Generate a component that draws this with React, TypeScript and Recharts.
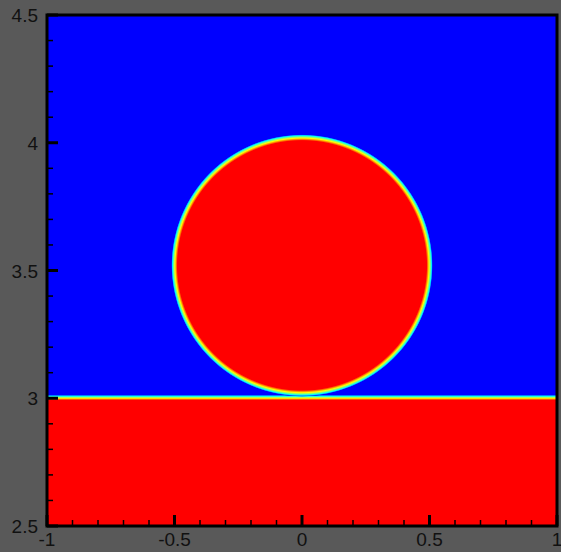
import { ScatterChart, Scatter, XAxis, YAxis, ReferenceArea } from 'recharts';

// axis ticks (minor every 0.1, labels on the halves)
const xTicks = [-1, -0.9, -0.8, -0.7, -0.6, -0.5, -0.4, -0.3, -0.2, -0.1, 0, 0.1, 0.2, 0.3, 0.4, 0.5, 0.6, 0.7, 0.8, 0.9, 1];
const yTicks = [2.5, 2.6, 2.7, 2.8, 2.9, 3, 3.1, 3.2, 3.3, 3.4, 3.5, 3.6, 3.7, 3.8, 3.9, 4, 4.1, 4.2, 4.3, 4.4, 4.5];
const xLabels = [-1, -0.5, 0, 0.5, 1];
const yLabels = [2.5, 3, 3.5, 4, 4.5];

// drop (centre + radius) and the liquid film below it
const drop = { x: 0, y: 3.52, r: 0.5 };
const dropCentre = [{ x: drop.x, y: drop.y }];
const film = { top: 3.0, bottom: 2.5 };
const interfaceBand = { y1: 2.993, y2: 3.014 };

const jet = ['#0000ff', '#0080ff', '#00ffff', '#80ff80', '#ffff00', '#ff8000', '#ff0000'];
const bandStops = [0, 0.15, 0.3, 0.45, 0.65, 0.85, 1];

const FONT = '"Liberation Sans", Arial, sans-serif';

const near = (a: number, list: number[]) => list.some((v) => Math.abs(v - a) < 1e-6);

const YTick = (props: any) => {
  const { x, y, payload } = props;
  const major = near(payload.value, yLabels);
  return (
    <g>
      <line x1={x} x2={x + (major ? 11 : 6)} y1={y} y2={y} stroke="#000" strokeWidth={major ? 3 : 1.5} />
      {major && (
        <text x={x - 9} y={y + 7} textAnchor="end" fontSize={19} fontFamily={FONT} fill="#111">
          {String(payload.value)}
        </text>
      )}
    </g>
  );
};

const XTick = (props: any) => {
  const { x, y, payload } = props;
  const major = near(payload.value, xLabels);
  return (
    <g>
      <line x1={x} x2={x} y1={y} y2={y - (major ? 11 : 6)} stroke="#000" strokeWidth={major ? 3 : 1.5} />
      {major && (
        <text x={x} y={y + 20} textAnchor="middle" fontSize={19} fontFamily={FONT} fill="#111">
          {String(payload.value)}
        </text>
      )}
    </g>
  );
};

const DropShape = (props: any) => {
  const { x, y, width, height } = props;
  const k = 1.025;
  return (
    <g>
      <defs>
        <radialGradient id="dropGrad" cx="0.5" cy="0.5" r="0.5">
          <stop offset="0" stopColor={jet[6]} />
          <stop offset="0.953" stopColor={jet[6]} />
          <stop offset="0.962" stopColor={jet[5]} />
          <stop offset="0.972" stopColor={jet[4]} />
          <stop offset="0.982" stopColor={jet[3]} />
          <stop offset="0.99" stopColor={jet[2]} />
          <stop offset="0.996" stopColor={jet[1]} />
          <stop offset="1" stopColor={jet[0]} />
        </radialGradient>
      </defs>
      <ellipse cx={x + width / 2} cy={y + height / 2} rx={(width / 2) * k} ry={(height / 2) * k} fill="url(#dropGrad)" />
    </g>
  );
};

const BandShape = (props: any) => {
  const { x, y, width, height } = props;
  return (
    <g>
      <defs>
        <linearGradient id="bandGrad" x1="0" y1="0" x2="0" y2="1">
          {jet.map((c, i) => (
            <stop key={c} offset={bandStops[i]} stopColor={c} />
          ))}
        </linearGradient>
      </defs>
      <rect x={x} y={y} width={width} height={height} fill="url(#bandGrad)" />
    </g>
  );
};

export default function App() {
  return (
    <div style={{ position: 'absolute', left: 0, top: 0, width: 561, height: 552, background: '#595959' }}>
      <ScatterChart width={561} height={552} margin={{ top: 15, right: 4, left: 0, bottom: 0 }}>
        <XAxis
          type="number"
          dataKey="x"
          domain={[-1, 1]}
          ticks={xTicks}
          interval={0}
          tickSize={0}
          tickMargin={0}
          tickLine={false}
          axisLine={false}
          height={26}
          tick={<XTick />}
        />
        <YAxis
          type="number"
          dataKey="y"
          domain={[2.5, 4.5]}
          ticks={yTicks}
          interval={0}
          tickSize={0}
          tickMargin={0}
          tickLine={false}
          axisLine={false}
          width={47}
          tick={<YTick />}
        />
        <ReferenceArea x1={-1} x2={1} y1={2.5} y2={4.5} fill="#0000ff" fillOpacity={1} stroke="none" ifOverflow="visible" />
        <ReferenceArea x1={-1} x2={1} y1={film.bottom} y2={film.top} fill="#ff0000" fillOpacity={1} stroke="none" ifOverflow="visible" />
        <ReferenceArea x1={-1} x2={1} y1={interfaceBand.y1} y2={interfaceBand.y2} shape={BandShape} ifOverflow="visible" />
        <ReferenceArea
          x1={drop.x - drop.r}
          x2={drop.x + drop.r}
          y1={drop.y - drop.r}
          y2={drop.y + drop.r}
          shape={DropShape}
          ifOverflow="visible"
        />
        <ReferenceArea x1={-1} x2={1} y1={2.5} y2={4.5} fill="none" stroke="#000" strokeWidth={3} ifOverflow="visible" />
        <Scatter data={dropCentre} isAnimationActive={false} shape={() => <g />} />
      </ScatterChart>
    </div>
  );
}
